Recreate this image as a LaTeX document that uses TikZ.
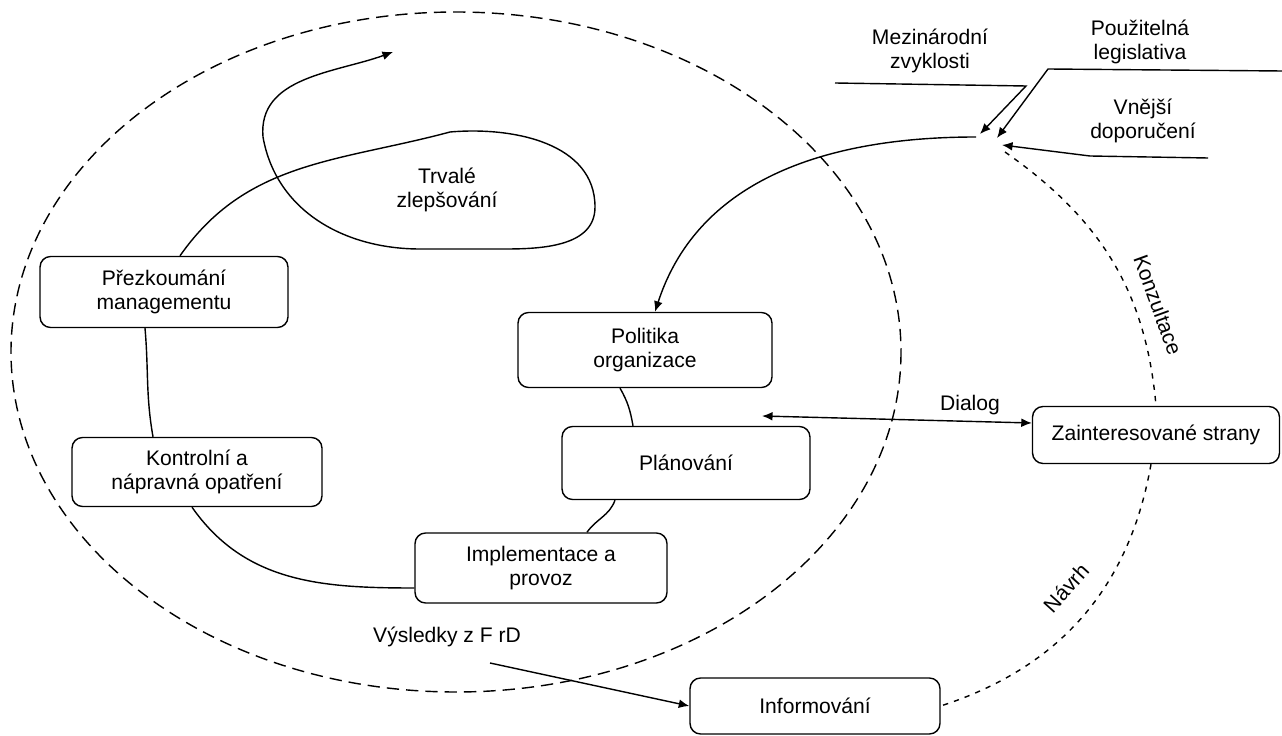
\documentclass[tikz,border=0pt]{standalone}
\usepackage{fontspec}
\setmainfont{Liberation Sans}
\usetikzlibrary{arrows.meta}

\begin{document}
\begin{tikzpicture}[
    x=0.02cm, y=-0.02cm,
    font=\fontsize{12}{14}\selectfont,
    box/.style={rectangle, rounded corners=6pt, draw=black, line width=0.8pt, align=center, minimum width=5cm, minimum height=1.4cm},
    lbl/.style={align=center, inner sep=1pt},
    link/.style={line width=0.8pt},
    arrow/.style={line width=0.8pt, -{Latex[length=6pt,width=5pt]}},
    twoway/.style={line width=0.8pt, {Latex[length=6pt,width=5pt]}-{Latex[length=6pt,width=5pt]}},
    bigdash/.style={line width=0.8pt, dash pattern=on 7pt off 4pt},
    smalldash/.style={line width=0.8pt, dash pattern=on 3pt off 3.5pt}
]
\useasboundingbox (0,0) rectangle (1282,736);

% --- Outer frame ---
\draw [bigdash] (456,352) ellipse [x radius=445, y radius=340];

% --- Nodes ---
% Cycle
\node (prez) at (164,292) [box, minimum width=4.96cm, minimum height=1.42cm] {Přezkoumání\\ managementu};
\node (kontr) at (197,472) [box, minimum height=1.38cm] {Kontrolní a\\ nápravná opatření};
\node (polit) at (645,350) [box, minimum width=5.08cm, minimum height=1.5cm] {Politika\\ organizace};
\node (plan) at (686,463) [box, minimum width=4.96cm, minimum height=1.46cm] {Plánování};
\node (impl) at (541,568) [box, minimum width=5.04cm] {Implementace a\\ provoz};
\node (trvale) at (447,190) [lbl] {Trvalé\\ zlepšování};

% Stakeholders
\node (zaint) at (1156,435) [box, minimum width=4.94cm, minimum height=1.14cm] {Zainteresované strany};
\node (info) at (815,706) [box, minimum height=1.12cm] {Informování};
\node (vysl) at (447,637) [lbl] {Výsledky z F rD};
\node (dialog) at (970,405) [lbl] {Dialog};
\node (konz) at (1158,305) [lbl, rotate=-70] {Konzultace};
\node (navrh) at (1066,588) [lbl, rotate=48] {Návrh};

% External inputs
\node (mezin) at (930,51) [lbl] {Mezinárodní\\ zvyklosti};
\node (legis) at (1140,42) [lbl] {Použitelná\\ legislativa};
\node (vnejsi) at (1143,121) [lbl] {Vnější\\ doporučení};

\coordinate (hub) at (976,137);
\coordinate (mzStart) at (835,83);
\coordinate (mzBend) at (1026,86);
\coordinate (mzTip) at (980,134);
\coordinate (plStart) at (1282,71);
\coordinate (plBend) at (1048,69);
\coordinate (plTip) at (997,138);
\coordinate (vdStart) at (1208,158);
\coordinate (vdTip) at (1002,145);
\coordinate (kStart) at (1005,152);
\coordinate (dlgL) at (762,416);
\coordinate (vyslStart) at (490,663);
\coordinate (loopTip) at (393,52);

% --- Edges ---
% Cycle links
\draw [link] ([xshift=-0.38cm]prez.south) to[out=-85,in=100] ([xshift=-0.88cm]kontr.north);
\draw [link] ([xshift=-0.1cm]kontr.south) to[out=-55,in=180] ([yshift=-0.4cm]impl.west);
\draw [link] ([xshift=-0.5cm]polit.south) to[out=-60,in=100] ([xshift=-1.06cm]plan.north);
\draw [link] ([xshift=-1.42cm]plan.south) to[out=-110,in=55] ([xshift=0.92cm]impl.north);

% Continual improvement loop
\draw [arrow] ([xshift=0.32cm]prez.north) to[out=55,in=195] (450,132) to[out=5,in=90] (595,207)
    to[out=-90,in=0] (505,249) -- (420,249) to[out=180,in=-80] (263,137) to[out=95,in=200] (loopTip);

% External inputs
\draw [arrow] (mzStart) -- (mzBend) -- (mzTip);
\draw [arrow] (plStart) -- (plBend) -- (plTip);
\draw [arrow] (vdStart) -- (1090,156) -- (vdTip);
\draw [arrow] (hub) to[out=180,in=72] ([xshift=0.2cm]polit.north);

% Dialog with stakeholders
\draw [twoway] (dlgL) -- ([yshift=0.24cm]zaint.west);

% Consultation / proposal
\draw [smalldash] (kStart) to[out=-35,in=95] (zaint.north);
\draw [smalldash] ([xshift=-0.1cm]zaint.south) to[out=-100,in=18] (info.east);

% Results to information
\draw [arrow] (vyslStart) -- (info.west);

\end{tikzpicture}
\end{document}
